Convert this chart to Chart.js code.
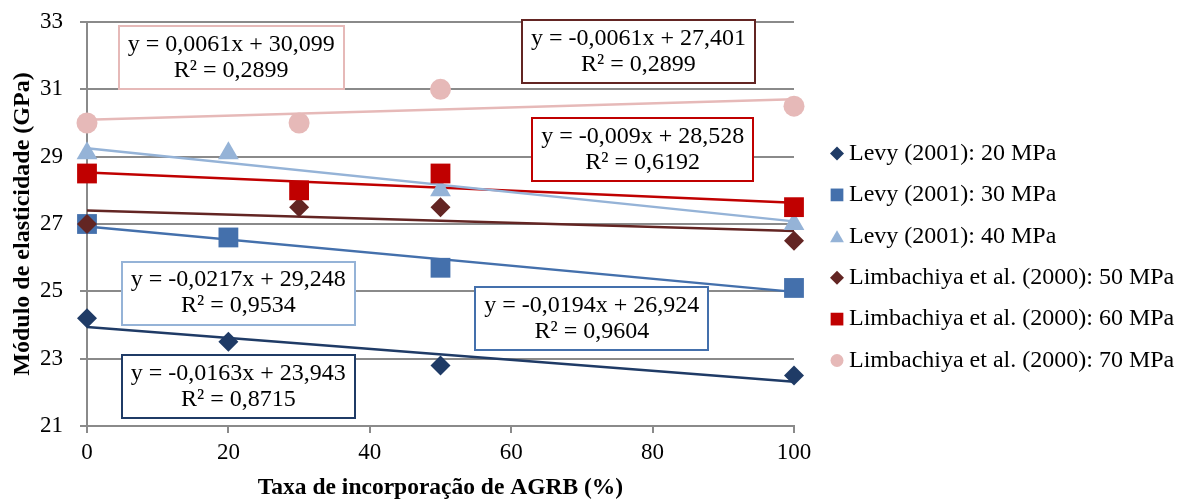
<!DOCTYPE html>
<html>
<head>
<meta charset="utf-8">
<script src="https://cdn.jsdelivr.net/npm/chart.js@4/dist/chart.umd.min.js"></script>
<style>
  html, body { margin: 0; padding: 0; background: #ffffff; }
  #wrap { width: 1183px; height: 500px; position: relative; }
</style>
</head>
<body>
<div id="wrap"><canvas id="chart"></canvas></div>
<script>
// Replacement rates (% AGRB) tested by each study
const levyRates = [0, 20, 50, 100];
const limbRates = [0, 30, 50, 100];

// Modulus of elasticity (GPa) per mix
const levy20 = [24.2, 23.5, 22.8, 22.5];
const levy30 = [27.0, 26.6, 25.7, 25.1];
const levy40 = [29.1, 29.1, 28.0, 27.0];
const limb50 = [27.0, 27.5, 27.5, 26.5];
const limb60 = [28.5, 28.0, 28.5, 27.5];
const limb70 = [30.0, 30.0, 31.0, 30.5];

const seriesNames = [
  'Levy (2001): 20 MPa',
  'Levy (2001): 30 MPa',
  'Levy (2001): 40 MPa',
  'Limbachiya et al. (2000): 50 MPa',
  'Limbachiya et al. (2000): 60 MPa',
  'Limbachiya et al. (2000): 70 MPa'
];

// Linear trendline coefficients and R² for each series
const slopes     = [-0.0163, -0.0194, -0.0217, -0.0061, -0.009, 0.0061];
const intercepts = [23.943, 26.924, 29.248, 27.401, 28.528, 30.099];
const rSquared   = [0.8715, 0.9604, 0.9534, 0.2899, 0.6192, 0.2899];

// Axis ticks
const yTicks = [21, 23, 25, 27, 29, 31, 33];
const xTicks = [0, 20, 40, 60, 80, 100];

// ---- styling ----
const colors = ['#1F3B66', '#4470AC', '#95B3D7', '#632523', '#C00000', '#E6B9B8'];
const pointStyles = ['rectRot', 'rect', 'triangle', 'rectRot', 'rect', 'circle'];
const pointRadii = [10, 14, 12, 10, 14, 10.5];
const legendRadii = [7, 9, 8, 7, 9, 6.5];
const serif = '"Liberation Serif", "Times New Roman", serif';
const gridGray = '#8a8a8a';

// Equation boxes: series index and centre in data units
const eqBoxes = [
  { series: 5, x: 20.4, y: 31.95 },
  { series: 3, x: 78.0, y: 32.12 },
  { series: 4, x: 78.6, y: 29.21 },
  { series: 2, x: 21.4, y: 24.95 },
  { series: 1, x: 71.4, y: 24.19 },
  { series: 0, x: 21.4, y: 22.17 }
];

const rates = [levyRates, levyRates, levyRates, limbRates, limbRates, limbRates];
const values = [levy20, levy30, levy40, limb50, limb60, limb70];

const fmt = v => String(v).replace('.', ',');
const eqText = i => 'y = ' + fmt(slopes[i]) + 'x + ' + fmt(intercepts[i]);
const r2Text = i => 'R\u00B2 = ' + fmt(rSquared[i]);

const datasets = [];
values.forEach((vals, i) => {
  datasets.push({
    type: 'scatter',
    label: seriesNames[i],
    data: vals.map((v, k) => ({ x: rates[i][k], y: v })),
    pointStyle: pointStyles[i],
    pointRadius: pointRadii[i],
    pointHoverRadius: pointRadii[i],
    backgroundColor: colors[i],
    borderColor: colors[i],
    borderWidth: 0,
    showLine: false,
    clip: false,
    order: 6 - i
  });
});
// trendlines from the fitted equations, drawn underneath the markers
slopes.forEach((m, i) => {
  datasets.push({
    type: 'line',
    label: 'trend ' + i,
    data: [{ x: 0, y: intercepts[i] }, { x: 100, y: m * 100 + intercepts[i] }],
    borderColor: colors[i],
    borderWidth: 2.5,
    pointRadius: 0,
    fill: false,
    tension: 0,
    clip: false,
    order: 20
  });
});

const eqLabelPlugin = {
  id: 'eqLabels',
  afterDatasetsDraw(chart) {
    const { ctx, scales } = chart;
    ctx.save();
    ctx.font = '24px ' + serif;
    ctx.textAlign = 'center';
    ctx.textBaseline = 'middle';
    const h = 63, padX = 9;
    eqBoxes.forEach(b => {
      const i = b.series;
      const l1 = eqText(i), l2 = r2Text(i);
      const w = Math.max(ctx.measureText(l1).width, ctx.measureText(l2).width) + 2 * padX;
      const cx = scales.x.getPixelForValue(b.x);
      const cy = scales.y.getPixelForValue(b.y);
      ctx.fillStyle = '#ffffff';
      ctx.fillRect(cx - w / 2, cy - h / 2, w, h);
      ctx.strokeStyle = colors[i];
      ctx.lineWidth = 2;
      ctx.strokeRect(Math.round(cx - w / 2), Math.round(cy - h / 2), Math.round(w), h);
      ctx.fillStyle = '#000000';
      ctx.fillText(l1, cx, cy - 13);
      ctx.fillText(l2, cx, cy + 13);
    });
    ctx.restore();
  }
};

const legendPlugin = {
  id: 'sideLegend',
  afterDraw(chart) {
    const { ctx } = chart;
    ctx.save();
    ctx.font = '24px ' + serif;
    ctx.textAlign = 'left';
    ctx.textBaseline = 'middle';
    const mx = 837, tx = 849, y0 = 153.5, dy = 41.4;
    seriesNames.forEach((name, i) => {
      const y = y0 + i * dy;
      ctx.fillStyle = colors[i];
      ctx.strokeStyle = colors[i];
      Chart.helpers.drawPoint(ctx, {
        pointStyle: pointStyles[i],
        radius: legendRadii[i],
        rotation: 0,
        borderWidth: 0
      }, mx, y + (pointStyles[i] === 'triangle' ? 2 : 0));
      ctx.fillStyle = '#000000';
      ctx.fillText(name, tx, y);
    });
    ctx.restore();
  }
};

new Chart(document.getElementById('chart'), {
  type: 'scatter',
  data: { datasets },
  options: {
    responsive: true,
    maintainAspectRatio: false,
    animation: false,
    layout: { padding: { top: 22, right: 389, bottom: 0, left: 0 } },
    plugins: {
      legend: { display: false },
      tooltip: { enabled: false }
    },
    scales: {
      x: {
        type: 'linear',
        min: xTicks[0],
        max: xTicks[xTicks.length - 1],
        afterBuildTicks: s => { s.ticks = xTicks.map(v => ({ value: v })); },
        afterFit: s => { s.height = 74; s.paddingLeft = 0; s.paddingRight = 0; },
        grid: {
          display: true,
          drawOnChartArea: false,
          drawTicks: true,
          tickLength: 7,
          color: gridGray,
          lineWidth: 2
        },
        border: { display: true, color: gridGray, width: 2 },
        ticks: {
          color: '#000000',
          font: { family: serif, size: 23 },
          padding: 6,
          maxRotation: 0
        },
        title: {
          display: true,
          text: 'Taxa de incorporação de AGRB (%)',
          color: '#000000',
          font: { family: serif, size: 23.5, weight: 'bold', lineHeight: 1 },
          padding: { top: 0, bottom: 0 }
        }
      },
      y: {
        type: 'linear',
        min: yTicks[0],
        max: yTicks[yTicks.length - 1],
        afterBuildTicks: s => { s.ticks = yTicks.map(v => ({ value: v })); },
        afterFit: s => { s.width = 87; s.paddingTop = 0; s.paddingBottom = 0; },
        grid: {
          display: true,
          drawOnChartArea: true,
          drawTicks: true,
          tickLength: 7,
          color: gridGray,
          lineWidth: 2
        },
        border: { display: true, color: gridGray, width: 2 },
        ticks: {
          color: '#000000',
          font: { family: serif, size: 23 },
          padding: 17
        },
        title: {
          display: true,
          text: 'Módulo de elasticidade (GPa)',
          color: '#000000',
          font: { family: serif, size: 24, weight: 'bold', lineHeight: 1.2 },
          padding: { top: 8, bottom: 0 }
        }
      }
    }
  },
  plugins: [eqLabelPlugin, legendPlugin]
});
</script>
</body>
</html>
